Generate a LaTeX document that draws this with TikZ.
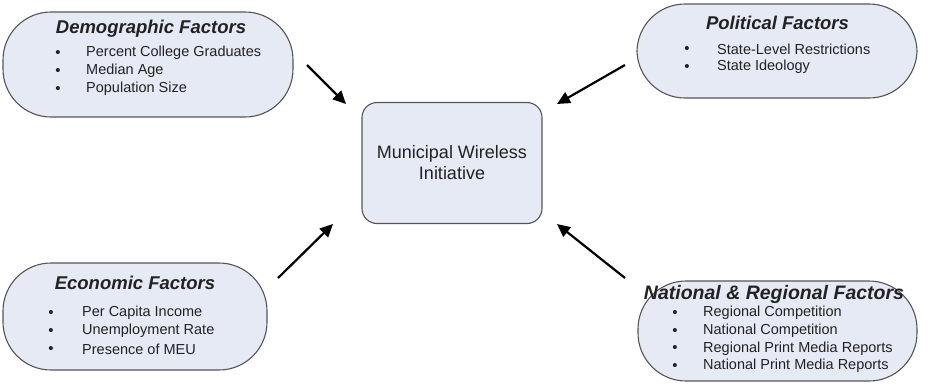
\documentclass[tikz,border=0pt]{standalone}
\usepackage{fontspec}
\setmainfont{Liberation Sans}
\definecolor{boxfill}{HTML}{E6EAF5}
\definecolor{boxline}{HTML}{555555}
\definecolor{inkgray}{HTML}{222222}
\usetikzlibrary{arrows.meta,positioning}

\tikzset{
  factor/.style={draw=boxline,fill=boxfill,line width=1.1pt,rounded corners=48pt,inner sep=0pt},
  hub/.style={draw=boxline,fill=boxfill,line width=1.1pt,rounded corners=15pt,
    minimum width=180pt,minimum height=121pt,inner sep=0pt},
  heading/.style={inkgray,font=\fontsize{18.5}{22}\selectfont\bfseries\itshape,inner sep=0pt},
  item/.style={inkgray,font=\fontsize{14.5}{17}\selectfont,anchor=west,inner sep=0pt},
  dot/.style={inkgray,font=\fontsize{15}{17}\selectfont,inner sep=0pt},
  flow/.style={line width=2.2pt,-{Triangle[length=13pt,width=12pt]}}
}

\begin{document}
\begin{tikzpicture}[x=1pt,y=-1pt]
  \useasboundingbox (0,0) rectangle (931,384);
  % central outcome
  \node[hub,text=inkgray,align=center,font=\fontsize{18}{21}\selectfont] (mwi) at (452,163)
    {Municipal Wireless\\Initiative};
  % factor groups
  \node[factor,minimum width=290pt,minimum height=105pt] (demo) at (148,64.5) {};
  \node[factor,minimum width=280pt,minimum height=94pt] (pol) at (777,51) {};
  \node[factor,minimum width=264pt,minimum height=107pt] (econ) at (135,316.5) {};
  \node[factor,minimum width=279pt,minimum height=100pt] (natl) at (777.5,331) {};
  \node[heading] (demo-h) at (151,29) {Demographic Factors};
  \node[heading] (pol-h) at (777.5,23) {Political Factors};
  \node[heading] (econ-h) at (135,283) {Economic Factors};
  \node[heading,font=\fontsize{19.5}{22}\selectfont\bfseries\itshape] (natl-h) at (774,294)
    {National \& Regional Factors};
  \foreach \txt [count=\i] in {Percent College Graduates,Median Age,Population Size} {
    \node[dot] (demo-d\i) at (58,{36+18*\i}) {\textbullet};
    \node[item] (demo-i\i) at (86,{35+18*\i}) {\txt};
  }
  \foreach \txt [count=\i] in {State-Level Restrictions,State Ideology} {
    \node[dot] (pol-d\i) at (687,{32+18*\i}) {\textbullet};
    \node[item] (pol-i\i) at (717,{31+18*\i}) {\txt};
  }
  \foreach \txt [count=\i] in {Per Capita Income,Unemployment Rate,Presence of MEU} {
    \node[dot] (econ-d\i) at (51,{296+18*\i}) {\textbullet};
    \node[item] (econ-i\i) at (82,{295+18*\i}) {\txt};
  }
  \foreach \txt [count=\i] in {Regional Competition,National Competition,
      Regional Print Media Reports,National Print Media Reports} {
    \node[dot] (natl-d\i) at (675,{296.5+17.6*\i}) {\textbullet};
    \node[item] (natl-i\i) at (703,{295.5+17.6*\i}) {\txt};
  }
  % arrows into the hub
  \coordinate (demo-out) at (307,65);
  \coordinate (demo-in) at (346,104);
  \coordinate (pol-out) at (625,65);
  \coordinate (pol-in) at (557,104);
  \coordinate (econ-out) at (278,278);
  \coordinate (econ-in) at (333,224);
  \coordinate (natl-out) at (625,278);
  \coordinate (natl-in) at (557,224);
  \draw[flow] (demo-out) -- (demo-in);
  \draw[flow] (pol-out) -- (pol-in);
  \draw[flow] (econ-out) -- (econ-in);
  \draw[flow] (natl-out) -- (natl-in);
\end{tikzpicture}
\end{document}
